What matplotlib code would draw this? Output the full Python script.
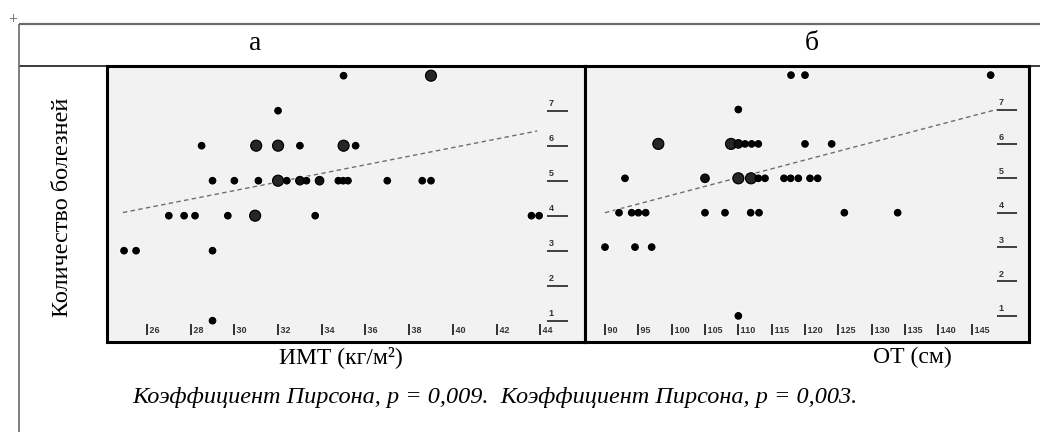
import matplotlib
matplotlib.use("Agg")
import matplotlib.pyplot as plt
import matplotlib.transforms as mtransforms

# ---- data -------------------------------------------------------------
# Panel "а": body-mass index vs number of diseases (count = overlapping cases)
bmi_x = [35.0, 39.0,
         32.0,
         28.5, 31.0, 32.0, 33.0, 35.0, 35.55,
         29.0, 30.0, 31.1, 32.0, 32.4, 33.0, 33.3, 33.9, 34.76, 34.98, 35.2, 37.0, 38.6, 39.0,
         27.0, 27.7, 28.2, 29.7, 30.95, 33.7, 43.6, 43.95,
         24.95, 25.5, 29.0,
         29.0]
bmi_y = [8, 8,
         7,
         6, 6, 6, 6, 6, 6,
         5, 5, 5, 5, 5, 5, 5, 5, 5, 5, 5, 5, 5, 5,
         4, 4, 4, 4, 4, 4, 4, 4,
         3, 3, 3,
         1]
bmi_count = [1, 3,
             1,
             1, 3, 3, 1, 3, 1,
             1, 1, 1, 3, 1, 2, 1, 2, 1, 1, 1, 1, 1, 1,
             1, 1, 1, 1, 3, 1, 1, 1,
             1, 1, 1,
             1]
bmi_trend_x = [24.9, 43.86]
bmi_trend_y = [4.09, 6.42]
bmi_ticks = [26, 28, 30, 32, 34, 36, 38, 40, 42, 44]

# Panel "б": waist circumference vs number of diseases
wc_x = [117.9, 120.0, 147.85,
        110.0,
        98.0, 108.9, 110.0, 111.0, 112.0, 113.0, 120.0, 124.0,
        93.0, 105.0, 110.0, 111.9, 113.0, 114.0, 116.85, 117.85, 119.0, 120.75, 121.9,
        92.1, 94.0, 95.0, 96.1, 105.0, 108.0, 111.85, 113.1, 125.9, 133.9,
        90.0, 94.5, 97.0,
        110.0]
wc_y = [8, 8, 8,
        7,
        6, 6, 6, 6, 6, 6, 6, 6,
        5, 5, 5, 5, 5, 5, 5, 5, 5, 5, 5,
        4, 4, 4, 4, 4, 4, 4, 4, 4, 4,
        3, 3, 3,
        1]
wc_count = [1, 1, 1,
            1,
            3, 3, 2, 1, 1, 1, 1, 1,
            1, 2, 3, 3, 1, 1, 1, 1, 1, 1, 1,
            1, 1, 1, 1, 1, 1, 1, 1, 1, 1,
            1, 1, 1,
            1]
wc_trend_x = [90.0, 148.75]
wc_trend_y = [4.0, 7.0]
wc_ticks = [90, 95, 100, 105, 110, 115, 120, 125, 130, 135, 140, 145]

y_ticks = [1, 2, 3, 4, 5, 6, 7]

header_labels = ["а", "б"]
y_title = "Количество болезней"
x_titles = ["ИМТ (кг/м²)", "ОТ (см)"]
caption = "Коэффициент Пирсона, р = 0,009.  Коэффициент Пирсона, р = 0,003."

# ---- styling ----------------------------------------------------------
W, H = 1040, 432
SERIF = ["Liberation Serif", "DejaVu Serif"]
SANS = ["Liberation Sans", "DejaVu Sans"]
marker_size = {1: 6.5, 2: 8.5, 3: 11.0}          # diameter in px
marker_face = {1: "#000000", 2: "#111111", 3: "#262626"}

fig = plt.figure(figsize=(W / 100, H / 100), dpi=100)
fig.patch.set_facecolor("white")

# page layer in pixel coordinates (table rules and captions)
page = fig.add_axes([0, 0, 1, 1], zorder=0)
page.set_xlim(0, W)
page.set_ylim(H, 0)
page.axis("off")

page.plot([18.5, W], [23.5, 23.5], color="#6a6a6a", lw=1.6, solid_capstyle="butt")
page.plot([18.5, W], [65.5, 65.5], color="#1a1a1a", lw=1.2, solid_capstyle="butt")
page.plot([18.5, 18.5], [23.5, H], color="#6a6a6a", lw=1.2, solid_capstyle="butt")
# small table handle glyph
page.plot([13, 13], [14, 21], color="#777777", lw=0.7)
page.plot([10, 16], [17.5, 17.5], color="#777777", lw=0.7)

page.text(255, 44, header_labels[0], family=SERIF, fontsize=20, ha="center", va="center")
page.text(812, 44, header_labels[1], family=SERIF, fontsize=20, ha="center", va="center")
page.text(63, 207, y_title, family=SERIF, fontsize=17.5, rotation=90, ha="center", va="center")
page.text(341, 357, x_titles[0], family=SERIF, fontsize=17, ha="center", va="center")
page.text(912, 357, x_titles[1], family=SERIF, fontsize=17, ha="center", va="center")
page.text(495, 398, caption, family=SERIF, style="italic", fontsize=17.5, ha="center", va="center")


def px_box(x0, y0, x1, y1):
    return [x0 / W, 1 - y1 / H, (x1 - x0) / W, (y1 - y0) / H]


def draw_panel(box, xlim, ylim, xs, ys, counts, tx, ty, xticks, ytick_x):
    ax = fig.add_axes(px_box(*box), zorder=2)
    ax.set_xlim(*xlim)
    ax.set_ylim(*ylim)
    ax.set_facecolor("#f2f2f2")
    ax.set_xticks([])
    ax.set_yticks([])
    for s in ax.spines.values():
        s.set_linewidth(2.2)
        s.set_color("black")

    ax.plot(tx, ty, color="#6e6e6e", lw=1.0, dashes=(3.2, 2.4), zorder=2)

    sizes = [(marker_size[c] * 0.72) ** 2 for c in counts]
    halo = [((marker_size[c] + 3) * 0.72) ** 2 for c in counts]
    faces = [marker_face[c] for c in counts]
    ax.scatter(xs, ys, s=halo, c="white", linewidths=0, alpha=0.9, zorder=3)
    ax.scatter(xs, ys, s=sizes, c=faces, edgecolors="black", linewidths=0.9, zorder=4)

    xb = mtransforms.blended_transform_factory(ax.transData, ax.transAxes)
    for t in xticks:
        ax.plot([t, t], [0.024, 0.064], transform=xb, color="#222222", lw=1.3,
                solid_capstyle="butt", clip_on=False)
        ax.text(t, 0.026, f" {t}", transform=xb, family=SANS, fontweight="bold",
                fontsize=6.5, color="#333333", ha="left", va="bottom")

    yb = mtransforms.blended_transform_factory(ax.transAxes, ax.transData)
    for v in y_ticks:
        ax.plot(ytick_x, [v, v], transform=yb, color="#222222", lw=1.2, solid_capstyle="butt")
        ax.text(ytick_x[0] + 0.004, v + 0.07, str(v), transform=yb, family=SANS,
                fontweight="bold", fontsize=6.5, color="#333333", ha="left", va="bottom")
    return ax


draw_panel((107, 66, 585, 342), (24.17, 46.05), (0.391, 8.277),
           bmi_x, bmi_y, bmi_count, bmi_trend_x, bmi_trend_y, bmi_ticks, [0.920, 0.965])
draw_panel((585, 66, 1029, 342), (87.0, 153.6), (0.241, 8.265),
           wc_x, wc_y, wc_count, wc_trend_x, wc_trend_y, wc_ticks, [0.927, 0.974])

fig.savefig("out.png", dpi=100, facecolor="white")
